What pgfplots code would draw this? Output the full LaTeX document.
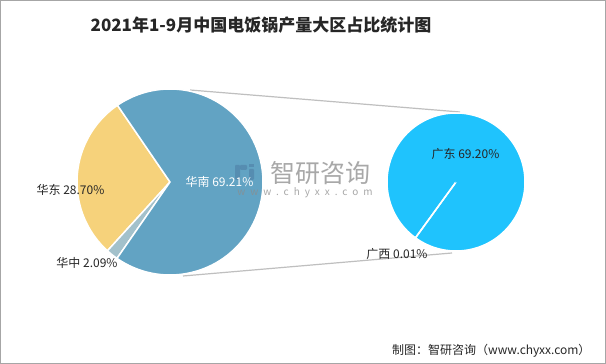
\documentclass[border=0pt]{standalone}
\usepackage{fontspec}
\setmainfont{Noto Sans CJK SC}
\newfontfamily\wmfont[LetterSpace=50]{Noto Sans CJK SC}
\usepackage{pgfplots}
\pgfplotsset{compat=1.18}
\definecolor{cNan}{HTML}{62A3C3}
\definecolor{cDong}{HTML}{F6D27B}
\definecolor{cZhong}{HTML}{A3C1CB}
\definecolor{cGD}{HTML}{1FC3FD}
\definecolor{cLine}{HTML}{BFBFBF}
\definecolor{cText}{HTML}{262626}
\definecolor{cFrame}{HTML}{A6A6A6}
\definecolor{cWM}{HTML}{8C8C8C}
\definecolor{cLogo}{HTML}{4F7FA6}
\begin{document}
\begin{tikzpicture}
% data (percent)
\def\vHuaNan{69.21}
\def\vHuaDong{28.70}
\def\vHuaZhong{2.09}
\def\vGuangDong{69.20}
\def\vGuangXi{0.01}
% angles of main pie
\pgfmathsetmacro{\aA}{124.4}
\pgfmathsetmacro{\aB}{\aA+3.6*\vHuaDong}
\pgfmathsetmacro{\aC}{\aB+3.6*\vHuaZhong}
\pgfmathsetmacro{\aD}{\aC+3.6*\vHuaNan}
% angles of secondary pie
\pgfmathsetmacro{\tot}{\vGuangDong+\vGuangXi}
\pgfmathsetmacro{\bA}{234}
\pgfmathsetmacro{\bB}{\bA+360*(\vGuangXi/\tot)}
\pgfmathsetmacro{\bC}{\bB+360*(\vGuangDong/\tot)}
\pgfmathsetmacro{\pAx}{170+93*cos(\aA)}\pgfmathsetmacro{\pAy}{182+93*sin(\aA)}
\pgfmathsetmacro{\pBx}{170+93*cos(\aB)}\pgfmathsetmacro{\pBy}{182+93*sin(\aB)}
\pgfmathsetmacro{\pCx}{170+93*cos(\aC)}\pgfmathsetmacro{\pCy}{182+93*sin(\aC)}
\pgfmathsetmacro{\qAx}{456+69*cos(\bA)}\pgfmathsetmacro{\qAy}{182+69*sin(\bA)}
\pgfmathsetmacro{\qBx}{456+69*cos(\bB)}\pgfmathsetmacro{\qBy}{182+69*sin(\bB)}
\begin{axis}[scale only axis, width=606pt, height=364pt,
  xmin=0, xmax=606, ymin=0, ymax=364, hide axis, clip=false]
\fill[white] (axis cs:0,0) rectangle (axis cs:606,364);
\draw[cFrame, line width=1pt] (axis cs:0.5,0.5) rectangle (axis cs:605.5,363.5);
% connector lines
\draw[cLine, line width=1.2pt] (axis cs:190,274) -- (axis cs:460,252);
\draw[cLine, line width=1.2pt] (axis cs:183,88) -- (axis cs:452,111);
% main pie
\filldraw[fill=cDong, draw=white, line width=1.5pt] (axis cs:170,182) -- (axis cs:\pAx,\pAy) arc[start angle=\aA, end angle=\aB, radius=93pt] -- cycle;
\filldraw[fill=cZhong, draw=white, line width=1.5pt] (axis cs:170,182) -- (axis cs:\pBx,\pBy) arc[start angle=\aB, end angle=\aC, radius=93pt] -- cycle;
\filldraw[fill=cNan, draw=white, line width=1.5pt] (axis cs:170,182) -- (axis cs:\pCx,\pCy) arc[start angle=\aC, end angle=\aD, radius=93pt] -- cycle;
% secondary pie
\filldraw[fill=cGD, draw=white, line width=1.5pt] (axis cs:456,182) -- (axis cs:\qBx,\qBy) arc[start angle=\bB, end angle=\bC, radius=69pt] -- cycle;
\filldraw[fill=cGD, draw=white, line width=1.5pt] (axis cs:456,182) -- (axis cs:\qAx,\qAy) arc[start angle=\bA, end angle=\bB, radius=69pt] -- cycle;
\fill[cGD] (axis cs:456,182) circle[radius=1pt];
% watermark
\fill[cLogo, opacity=0.6, rounded corners=1pt] (axis cs:235,184) rectangle (axis cs:240,199);
\fill[cLogo, opacity=0.6, rounded corners=1pt] (axis cs:240,194) rectangle (axis cs:247,199);
\fill[cLogo, opacity=0.6, rounded corners=1pt] (axis cs:249,184) rectangle (axis cs:254,195);
\fill[cLogo, opacity=0.6] (axis cs:249,197) rectangle (axis cs:254,200);
\node[text=cWM, opacity=0.75, font=\fontsize{25}{25}\selectfont] at (axis cs:320,191) {智研咨询};
\node[text=cWM, opacity=0.75, font=\wmfont\fontsize{10}{10}\selectfont] at (axis cs:305,171) {www.chyxx.com};
% labels
\node[text=white, font=\fontsize{12}{12}\selectfont] at (axis cs:219.5,182) {华南 69.21\%};
\node[text=cText, font=\fontsize{12}{12}\selectfont] at (axis cs:70.5,174) {华东 28.70\%};
\node[text=cText, font=\fontsize{12}{12}\selectfont] at (axis cs:87,101) {华中 2.09\%};
\node[text=cText, font=\fontsize{12}{12}\selectfont] at (axis cs:465.5,210) {广东 69.20\%};
\node[text=cText, font=\fontsize{12}{12}\selectfont] at (axis cs:397,110) {广西 0.01\%};
% title and source
\node[text=cText, font=\bfseries\fontsize{17}{17}\selectfont] at (axis cs:261,339) {2021年1-9月中国电饭锅产量大区占比统计图};
\node[text=cText, anchor=east, font=\fontsize{12}{12}\selectfont] at (axis cs:594,13) {制图：智研咨询（www.chyxx.com）};
\end{axis}
\end{tikzpicture}
\end{document}
